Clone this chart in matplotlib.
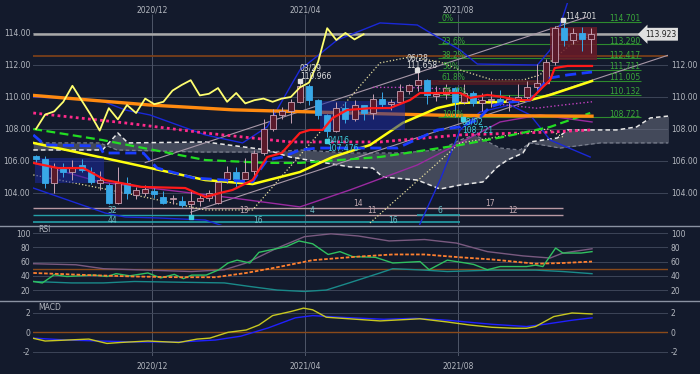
import matplotlib
matplotlib.use('Agg')
import matplotlib.pyplot as plt
from matplotlib.patches import Rectangle
from matplotlib.lines import Line2D
import numpy as np

plt.rcParams['axes.unicode_minus'] = False

BG = '#131a2c'
GRID = '#3d4558'
TXT = '#b4b8c0'
FS = 5.5

# ---------------- weekly candles ----------------
opens = [106.3,106.1,104.6,105.6,105.3,105.75,105.3,104.6,104.5,103.4,
         104.6,103.9,104.0,104.1,103.75,103.6,103.5,103.3,103.5,103.7,
         103.4,104.9,105.3,104.9,105.4,106.5,108.0,108.9,109.1,109.7,
         110.7,109.8,108.9,107.9,109.3,108.6,109.5,109.0,109.9,109.55,
         109.7,110.4,110.75,111.05,110.05,110.2,110.56,109.7,110.25,109.6,
         109.8,109.9,109.7,109.9,110.0,110.6,110.9,112.2,114.3,113.56,
         114.0,113.6]
highs = [106.4,106.3,105.9,105.9,106.05,106.1,105.6,105.4,104.6,105.6,
         105.0,104.4,104.5,104.4,104.1,103.9,103.8,104.1,103.9,104.2,
         104.9,105.7,105.6,106.2,106.7,108.65,109.25,109.35,109.85,110.97,
         110.8,109.9,108.95,109.7,109.7,109.8,109.5,110.2,110.3,109.85,
         110.8,110.8,111.66,111.1,110.7,110.8,110.6,110.8,110.4,110.25,
         110.4,110.45,110.15,110.8,111.0,112.05,112.4,114.45,114.701,114.3,
         114.4,114.3]
lows = [105.9,104.3,104.0,105.0,104.8,105.3,104.55,104.2,103.3,103.3,
        103.6,103.6,103.8,103.7,103.3,103.3,103.1,102.6,103.2,103.5,
        103.3,104.6,104.4,104.9,105.0,106.4,107.9,108.6,108.4,109.6,
        109.5,108.6,107.476,107.8,108.35,108.5,108.55,108.6,109.3,109.2,
        109.55,110.2,110.4,109.55,109.75,109.9,108.721,109.55,109.45,109.1,
        109.4,109.5,109.1,109.6,109.8,110.4,110.8,112.0,113.2,113.3,
        112.9,112.75]
closes = [106.1,104.6,105.6,105.3,105.6,105.45,104.7,104.8,103.4,104.6,
          104.0,104.2,104.25,103.95,103.4,103.7,103.25,103.5,103.7,104.0,
          104.7,105.3,104.9,105.3,106.5,108.0,108.9,109.1,109.7,110.7,
          109.8,108.9,107.9,109.3,108.6,109.5,109.0,109.9,109.55,109.7,
          110.4,110.75,111.05,110.1,110.2,110.56,109.7,110.25,109.6,109.8,
          109.9,109.7,109.9,110.0,110.6,110.9,112.2,114.3,113.56,114.0,
          113.6,113.923]
weeks = list(range(len(closes)))
lag_shift = 25

month_pos = [12.75, 29.6, 46.4]
month_lbl = ['2020/12', '2021/04', '2021/08']

# ---------------- indicator lines (week index, price) ----------------
orange_x = [-0.3, 12.5, 21.6, 34.5, 45.5, 61.1]
orange_y = [110.1, 109.5, 109.2, 109.0, 108.85, 108.8]

yellow_x = [-0.3, 9.5, 18.6, 23.8, 29.0, 32.6, 36.7, 40.3, 44.1, 46.6, 51.3, 54.3, 56.5, 61.1]
yellow_y = [107.13, 105.94, 104.81, 104.56, 105.31, 106.25, 107.0, 108.38, 109.31, 109.63, 109.69, 109.81, 110.13, 111.0]

red_x = [-0.3, 2.4, 5.2, 7.6, 11.6, 16.4, 18.6, 20.2, 21.6, 23.8, 25.4, 27.0, 29.0, 30.1, 31.5,
         32.6, 34.2, 36.7, 38.9, 41.1, 42.2, 46.6, 47.7, 49.6, 51.3, 52.9, 54.3, 55.7, 56.5, 57.0, 58.4, 61.1]
red_y = [105.88, 105.56, 105.56, 104.81, 104.38, 104.31, 103.75, 104.0, 104.19, 104.81, 106.25, 106.5, 107.75, 107.94, 107.94,
         108.69, 109.19, 109.3, 109.31, 109.81, 110.25, 110.25, 109.94, 110.13, 110.0, 109.81, 109.81, 110.63, 111.06, 111.81, 111.94, 111.94]

kijun_x = [-0.3, 1.0, 7.0, 7.4, 11.8, 13.3, 17.3, 23.8, 24.6, 25.4, 27.1, 29.0, 30.9, 39.7, 44.1,
           46.6, 48.5, 49.9, 51.3, 54.3, 55.7, 56.5, 58.4, 61.1]
kijun_y = [107.63, 107.0, 106.94, 106.5, 106.5, 105.56, 104.94, 104.69, 105.44, 106.06, 106.25, 106.69, 106.81, 106.81, 107.94,
           108.13, 108.56, 109.38, 109.63, 109.81, 110.75, 111.19, 111.38, 111.56]

green_x = [-0.3, 7.3, 18.6, 25.4, 29.0, 37.8, 46.6, 51.3, 56.5, 60.9]
green_y = [108.0, 107.31, 106.06, 105.88, 105.88, 106.25, 107.0, 107.5, 108.13, 109.0]

pink_x = [-0.3, 9.8, 18.6, 27.9, 37.8, 46.6, 56.5, 60.9]
pink_y = [109.0, 108.38, 107.75, 107.19, 107.19, 107.63, 107.81, 107.94]

bbu_x = [-0.3, 7.0, 9.8, 12.5, 18.6, 22.7, 25.4, 27.6, 29.0, 33.1, 37.8, 41.9, 44.1, 46.6, 48.5, 55.1, 56.5, 57.6, 58.7]
bbu_y = [110.0, 109.81, 109.19, 108.88, 107.63, 107.13, 108.13, 110.31, 111.69, 113.56, 114.63, 114.5, 113.75, 112.94, 112.06, 112.0, 112.94, 114.5, 116.4]

bbl_x = [-0.3, 7.6, 9.8, 13.4, 18.6, 21.3, 30.0, 41.9, 44.4, 46.6, 48.8, 52.1, 54.3, 56.5, 60.9]
bbl_y = [104.31, 102.75, 102.5, 102.44, 102.31, 101.8, 100.5, 101.7, 104.81, 107.94, 109.06, 109.5, 108.88, 107.31, 106.25]

mag_x = [-0.3, 7.0, 21.6, 29.0, 34.5, 41.9, 46.6, 51.0, 55.4, 61.1]
mag_y = [105.88, 104.69, 103.69, 103.13, 104.19, 105.75, 107.13, 108.44, 108.88, 108.44]

magdot_x = [37.0, 41.0, 45.0, 50.0, 55.0, 57.9, 61.1]
magdot_y = [110.6, 110.6, 110.5, 109.6, 109.3, 109.5, 109.7]

cream_x = [-0.3, 9.8, 18.6, 23.8, 37.8, 41.1, 44.4, 46.6, 50.2, 53.5, 55.4, 56.5, 58.7, 61.1]
cream_y = [105.13, 104.0, 102.94, 102.94, 112.13, 112.5, 112.19, 111.69, 111.06, 111.06, 111.38, 112.19, 113.25, 113.88]

cream2_x = [36.7, 46.6, 56.2, 57.9]
cream2_y = [102.13, 107.13, 108.0, 107.5]

spanB_x = [-0.3, 7.3, 9.0, 10.1, 18.6, 25.4, 27.9, 34.5, 37.0, 38.1, 41.9, 44.4, 46.6, 49.1, 50.7, 51.8,
           53.5, 54.3, 57.3, 58.4, 63.8, 66.0, 67.5, 69.5]
spanB_y = [106.69, 106.69, 107.75, 107.13, 107.19, 106.69, 106.25, 105.63, 105.56, 105.0, 104.81, 104.25, 104.5, 104.69,
           105.63, 106.06, 106.5, 107.19, 107.44, 107.94, 107.94, 108.13, 108.69, 108.81]
spanA_x = [-0.3, 7.0, 8.9, 18.0, 25.7, 29.0, 34.5, 40.0, 44.4, 46.6, 48.2, 49.9, 51.0, 53.2, 54.3, 57.6, 62.0, 69.5]
spanA_y = [107.13, 107.13, 106.69, 106.56, 106.56, 106.69, 106.5, 106.5, 106.69, 107.31, 107.63, 107.13, 106.81, 106.69,
           107.13, 106.81, 107.13, 107.13]

# straight trend lines: (x0, y0, x1, y1)
trend_lines = [(12.0, 105.9, 60.5, 115.0), (17.0, 102.8, 69.4, 112.6)]

fib_pct = ['0%', '23.6%', '38.2%', '50%', '61.8%', '76.4%', '100%']
fib_val = [114.701, 113.290, 112.417, 111.711, 111.005, 110.132, 108.721]

# ---------------- RSI / MACD ----------------
rsi_purple_x = [-0.3, 4.4, 7.4, 17.1, 20.7, 23.1, 26.5, 29.5, 32.4, 35.4, 38.8, 42.7, 46.2, 49.6, 53.5, 56.5, 57.9, 61.1]
rsi_purple_y = [57, 55.5, 50, 46, 48.5, 58, 79, 95, 99, 96, 89, 91, 86, 74, 68, 65, 72, 78]
rsi_green_x = [-0.3, 0.7, 2.0, 3.4, 4.8, 6.4, 7.8, 8.8, 10.3, 12.3, 13.7, 15.2, 16.2, 17.1, 18.7, 20.1, 21.1, 22.1,
               23.5, 24.5, 26.0, 27.5, 28.9, 30.4, 32.1, 33.4, 34.8, 37.3, 39.2, 42.2, 43.2, 45.2, 47.2, 48.1, 49.6,
               51.0, 53.9, 54.9, 55.7, 57.1, 57.9, 59.9, 61.1]
rsi_green_y = [32, 30, 41.5, 39, 40, 41, 39, 43, 40, 44, 37, 42, 36, 41, 41, 48.5, 58, 62, 58, 73, 77, 81, 89, 85,
               70, 74, 67, 66, 58, 60, 48.5, 62, 58, 56, 48.5, 53, 53, 55, 53, 79, 72, 72, 74]
rsi_teal_x = [-0.3, 3.9, 7.4, 10.8, 20.7, 23.5, 26.5, 29.5, 31.9, 34.4, 37.8, 39.2, 42.7, 45.2, 50.1, 54.9, 57.9, 61.1]
rsi_teal_y = [32, 30, 30, 32, 30, 25, 20, 18, 20, 30, 44, 50, 48, 46, 48, 48, 46, 43]
rsi_orange_x = [-0.3, 5.8, 10.8, 15.7, 19.7, 23.1, 26.5, 30.4, 35.4, 39.2, 42.7, 46.6, 50.1, 54.9, 57.9, 61.1]
rsi_orange_y = [44, 41, 39, 38, 38, 44, 52, 62, 67, 70, 70, 66, 63, 57, 58, 60]

macd_x = [-0.3, 1.0, 3.4, 5.8, 7.8, 9.3, 12.3, 15.7, 17.7, 19.1, 21.1, 23.1, 24.5, 26.0, 28.0, 29.4, 30.4, 31.9,
          34.4, 37.8, 42.2, 45.2, 47.6, 50.1, 52.5, 53.9, 54.9, 56.9, 58.9, 61.1]
macd_y = [-0.62, -0.9, -0.8, -0.7, -1.15, -1.05, -0.9, -1.05, -0.7, -0.6, 0.0, 0.24, 0.76, 1.73, 2.15, 2.5, 2.33,
          1.56, 1.4, 1.18, 1.4, 1.07, 0.76, 0.52, 0.42, 0.42, 0.6, 1.63, 2.0, 1.9]
sig_x = [-0.3, 3.4, 10.8, 15.7, 19.7, 22.5, 25.5, 28.5, 30.4, 33.4, 38.2, 41.7, 45.2, 50.1, 53.9, 55.9, 58.9, 61.1]
sig_y = [-0.6, -0.8, -1.0, -1.0, -0.8, -0.4, 0.45, 1.5, 1.73, 1.56, 1.35, 1.45, 1.25, 0.83, 0.6, 0.83, 1.25, 1.5]

# ---------------- figure ----------------
fig = plt.figure(figsize=(7, 3.74), dpi=100, facecolor=BG)
ax = fig.add_axes([33/700, 1-225/374, 635/700, 222/374])
ar = fig.add_axes([33/700, 1-300/374, 635/700, 74/374])
am = fig.add_axes([33/700, 1-356/374, 635/700, 55/374])
XL = (-0.33, 69.45)
for a in (ax, ar, am):
    a.set_facecolor(BG)
    a.set_xlim(*XL)
    for s in a.spines.values():
        s.set_visible(False)
    a.tick_params(axis='y', colors=TXT, labelsize=FS, length=0, pad=2, labelleft=True, labelright=True)
    a.tick_params(axis='x', colors=TXT, labelsize=FS, length=0)
    a.set_xticks([])

# main panel
ax.set_ylim(102.0, 115.875)
ax.set_yticks([104, 106, 108, 110, 112, 114])
ax.set_yticklabels(['104.00', '106.00', '108.00', '110.00', '112.00', '114.00'])
ax.yaxis.get_major_ticks()[-1].label2.set_visible(False)
for v in [104, 106, 108, 110, 112, 114]:
    ax.axhline(v, color=GRID, lw=0.7, zorder=0)
for m, lb in zip(month_pos, month_lbl):
    ax.vlines(m, 102, 115.19, color='#4e5668', lw=0.7, zorder=0)
    ax.text(m, 115.45, lb, color=TXT, fontsize=FS, ha='center', va='center')
    ar.axvline(m, color='#4e5668', lw=0.7, zorder=0)
    am.axvline(m, color='#4e5668', lw=0.7, zorder=0)

# cloud
cx = np.union1d(spanA_x, spanB_x)
ca = np.interp(cx, spanA_x, spanA_y)
cb = np.interp(cx, spanB_x, spanB_y)
ax.fill_between(cx, ca, cb, color='#6b7080', alpha=0.55, lw=0, zorder=1)
ax.plot(spanB_x, spanB_y, color='#e8e8e8', lw=1.1, ls=(0, (3, 2)), zorder=2)
ax.plot(spanA_x, spanA_y, color='#7a7f8e', lw=0.9, ls=(0, (3, 2)), zorder=2)

# horizontal reference lines
ax.hlines(112.56, XL[0], XL[1], color='#7a3f1a', lw=1.3, zorder=2)
ax.hlines(113.923, XL[0], 66.6, color='#a8a8a8', lw=1.8, zorder=2)

# fib
for p, v in zip(fib_pct, fib_val):
    ax.hlines(v, 44.2, 66.5, color='#2e8b2e', lw=0.8, zorder=2)
    ax.text(44.6, v + 0.2, p, color='#3aa83a', fontsize=FS, va='center', ha='left', zorder=6)
    ax.text(66.4, v + 0.2, f'{v:.3f}', color='#3aa83a', fontsize=FS, va='center', ha='right', zorder=6)

# trend lines
for x0, y0, x1, y1 in trend_lines:
    ax.plot([x0, x1], [y0, y1], color='#a898a8', lw=0.8, zorder=3)

# bollinger etc
ax.plot(bbu_x, bbu_y, color='#1a28d8', lw=1.0, zorder=3)
ax.plot(bbl_x, bbl_y, color='#1a28d8', lw=1.0, zorder=3)
ax.plot(mag_x, mag_y, color='#9a2aa0', lw=1.0, zorder=3)
ax.plot(magdot_x, magdot_y, color='#c040c0', lw=1.0, ls=':', zorder=3)
ax.plot(cream_x, cream_y, color='#e8e0a0', lw=0.9, ls=':', zorder=3)
ax.plot(cream2_x, cream2_y, color='#e8e0a0', lw=0.9, ls=':', zorder=3)
ax.plot(pink_x, pink_y, color='#ff2a8a', lw=2.0, ls=(0, (1, 1.2)), zorder=3)
ax.plot(green_x, green_y, color='#22dd22', lw=1.6, ls=(0, (4, 2)), zorder=3)
ax.plot(orange_x, orange_y, color='#ff8a10', lw=2.4, zorder=4)
ax.plot(yellow_x, yellow_y, color='#ffff10', lw=1.8, zorder=4)

# boxes
ax.add_patch(Rectangle((-0.1, 104.6), 7.6, 1.6, color='#1c2aa0', alpha=0.55, lw=0, zorder=4.5))
ax.add_patch(Rectangle((31.2, 107.95), 9.4, 1.8, color='#1c2aa0', alpha=0.55, lw=0, zorder=4.5))
ax.add_patch(Rectangle((42.2, 110.75), 14.3, 0.3, color='#5a1a26', alpha=0.8, lw=0, zorder=4.5))
ax.add_patch(Rectangle((56.5, 112.3), 5.2, 2.05, color='#6a1a28', alpha=0.85, lw=0, zorder=4.5))

# candles
for i, o, h, l, c in zip(weeks, opens, highs, lows, closes):
    up = c >= o
    ec = '#c8a2b4' if up else '#38a8e8'
    fc = '#5a1a2a' if up else '#38a8e8'
    ax.vlines(i, l, h, color=ec, lw=0.7, zorder=5)
    ax.add_patch(Rectangle((i - 0.33, min(o, c)), 0.66, max(abs(c - o), 0.04),
                           facecolor=fc, edgecolor=ec, lw=0.6, zorder=5))

ax.plot(kijun_x, kijun_y, color='#1a3cff', lw=2.0, ls=(0, (4, 2)), zorder=6)
ax.plot(red_x, red_y, color='#ff1a1a', lw=1.6, zorder=6)
lag_x = [w - lag_shift for w in weeks[lag_shift:]]
ax.plot(lag_x, closes[lag_shift:], color='#ffff70', lw=1.3, zorder=6)

# bottom count lines
ax.hlines(103.06, XL[0], 57.9, color='#b899a3', lw=1.0, zorder=2)
ax.hlines(102.62, XL[0], 29.6, color='#25a0a8', lw=1.0, zorder=2)
ax.hlines(102.62, 29.6, 57.9, color='#b899a3', lw=1.0, zorder=2)
ax.hlines(102.62, 41.9, 46.6, color='#25a0a8', lw=1.2, zorder=2)
ax.hlines(102.19, XL[0], 46.6, color='#25a0a8', lw=1.2, zorder=2)
cnt = [(8.4, 102.88, '32', '#6ac0c8'), (8.4, 102.3, '44', '#6ac0c8'), (22.9, 102.88, '13', '#c0a8b0'),
       (24.4, 102.3, '16', '#6ac0c8'), (30.3, 102.88, '4', '#6ac0c8'), (35.4, 103.33, '14', '#c0a8b0'),
       (36.9, 102.88, '11', '#c0a8b0'), (39.2, 102.3, '16', '#6ac0c8'), (44.4, 102.88, '6', '#6ac0c8'),
       (49.9, 103.33, '17', '#c0a8b0'), (52.4, 102.88, '12', '#c0a8b0')]
for x, y, s, c in cnt:
    ax.text(x, y, s, color=c, fontsize=FS, ha='center', va='center', zorder=7)

# annotations
ann = [(29.0, 111.55, '03/29\n110.966', '#e0e0e0'), (40.7, 112.2, '06/28\n111.658', '#e0e0e0'),
       (32.0, 107.05, '04/16\n107.476', '#40d0e0'), (46.8, 108.15, '08/02\n108.721', '#40d0e0')]
for x, y, s, c in ann:
    ax.text(x, y, s, color=c, fontsize=FS, ha='left', va='center', linespacing=0.9, zorder=7)
ax.text(58.2, 115.05, '114.701', color='#e0e0e0', fontsize=FS, ha='left', va='center', zorder=7)
ax.plot([57.9, 29.0, 41.9], [114.82, 110.98, 111.68], 's', color='#e0e0e0', ms=2.2, zorder=7)
ax.plot([32.0, 46.9, 17.0], [107.25, 108.6, 102.52], 's', color='#40d0e0', ms=2.2, zorder=7)

# price label
ax.text(66.9, 113.923, '113.923', color='#202020', fontsize=FS, ha='left', va='center', zorder=8,
        clip_on=False, bbox=dict(boxstyle='larrow,pad=0.25', fc='#e0e0e0', ec='none'))

# RSI panel
ar.set_ylim(6, 110)
ar.set_yticks([20, 40, 60, 80, 100])
for v in [20, 40, 60, 80, 100]:
    ar.axhline(v, color=GRID, lw=0.7, zorder=0)
ar.axhline(50, color='#8a4a1a', lw=1.0, zorder=1)
ar.plot(rsi_purple_x, rsi_purple_y, color='#7a5a80', lw=1.0)
ar.plot(rsi_teal_x, rsi_teal_y, color='#1a8a8a', lw=1.0)
ar.plot(rsi_green_x, rsi_green_y, color='#30c060', lw=1.0)
ar.plot(rsi_orange_x, rsi_orange_y, color='#ff8030', lw=1.3, ls=(0, (2, 1)))
ar.text(0.3, 105, 'RSI', color=TXT, fontsize=FS, va='center')

# MACD panel
am.set_ylim(-2.45, 3.24)
am.set_yticks([-2, 0, 2])
for v in [-2, 2]:
    am.axhline(v, color=GRID, lw=0.7, zorder=0)
am.axhline(0, color='#8a4a1a', lw=1.0, zorder=1)
am.plot(sig_x, sig_y, color='#2020ff', lw=1.0)
am.plot(macd_x, macd_y, color='#c8c820', lw=1.0)
am.text(0.3, 2.6, 'MACD', color=TXT, fontsize=FS, va='center')
am.set_xticks(month_pos)
am.set_xticklabels(month_lbl)
am.tick_params(axis='x', pad=4)

# separators
for yy in (225.5, 300.5):
    fig.add_artist(Line2D([0, 1], [1 - yy/374, 1 - yy/374], color='#8a92a2', lw=1.0))

fig.savefig('out.png', dpi=100, facecolor=BG)
